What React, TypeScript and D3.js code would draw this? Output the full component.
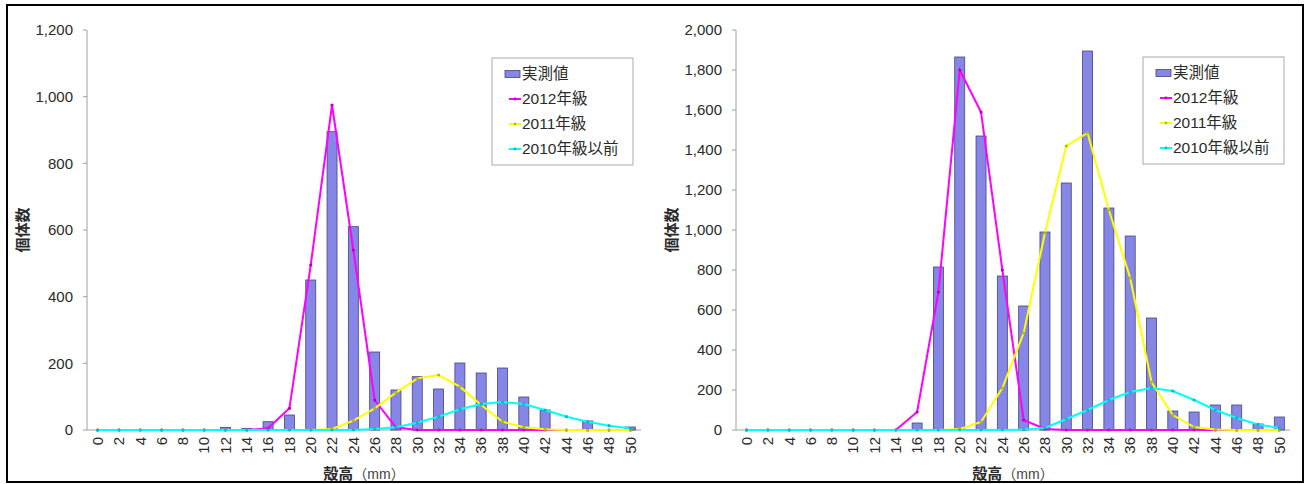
import React from "react";
import * as d3 from "d3";

const categories = [0, 2, 4, 6, 8, 10, 12, 14, 16, 18, 20, 22, 24, 26, 28, 30, 32, 34, 36, 38, 40, 42, 44, 46, 48, 50];

const seriesNames = ["実測値", "2012年級", "2011年級", "2010年級以前"];

// Left chart
const leftMeasured = [0, 0, 0, 0, 0, 0, 8, 5, 25, 45, 450, 895, 610, 234, 120, 160, 123, 201, 171, 186, 99, 60, 0, 27, 0, 9];
const left2012 = [0, 0, 0, 0, 0, 0, 0, 0, 5, 65, 495, 975, 540, 90, 8, 0, 0, 0, 0, 0, 0, 0, 0, 0, 0, 0];
const left2011 = [0, 0, 0, 0, 0, 0, 0, 0, 0, 0, 0, 3, 28, 65, 112, 155, 165, 130, 75, 25, 8, 2, 0, 0, 0, 0];
const left2010 = [0, 0, 0, 0, 0, 0, 0, 0, 0, 0, 0, 0, 0, 3, 8, 22, 40, 62, 78, 84, 78, 60, 40, 25, 13, 5];
const leftTicks = [0, 200, 400, 600, 800, 1000, 1200];

// Right chart
const rightMeasured = [0, 0, 0, 0, 0, 0, 0, 0, 35, 815, 1865, 1470, 770, 620, 990, 1235, 1895, 1110, 970, 560, 95, 90, 125, 125, 30, 65];
const right2012 = [0, 0, 0, 0, 0, 0, 0, 0, 90, 690, 1800, 1590, 800, 50, 5, 0, 0, 0, 0, 0, 0, 0, 0, 0, 0, 0];
const right2011 = [0, 0, 0, 0, 0, 0, 0, 0, 0, 0, 5, 40, 210, 485, 985, 1420, 1485, 1100, 760, 240, 75, 15, 3, 0, 0, 0];
const right2010 = [0, 0, 0, 0, 0, 0, 0, 0, 0, 0, 0, 0, 0, 2, 10, 55, 100, 150, 190, 210, 195, 150, 100, 60, 28, 10];
const rightTicks = [0, 200, 400, 600, 800, 1000, 1200, 1400, 1600, 1800, 2000];

const xTitleMain = "殻高";
const xTitleUnit = "（mm）";
const yTitle = "個体数";

const FONT = '"Liberation Sans", "Noto Sans CJK JP", Arial, sans-serif';
const BAR_FILL = "#8686e6";
const BAR_STROKE = "#45457e";
const LINE_COLORS = ["#ff00ff", "#ffff00", "#00ffff"];
const TEXT = "#2a2a2a";

type ChartProps = {
  left: number;
  right: number;
  top: number;
  bottom: number;
  yMax: number;
  ticks: number[];
  measured: number[];
  lines: number[][];
  legendX: number;
  legendY: number;
};

function Chart(p: ChartProps) {
  const x = d3
    .scaleBand<string>()
    .domain(categories.map(String))
    .range([p.left, p.right]);
  const y = d3.scaleLinear().domain([0, p.yMax]).range([p.bottom, p.top]);
  const bw = x.bandwidth();
  const cx = (c: number) => (x(String(c)) as number) + bw / 2;
  const barW = 10;
  const fmt = d3.format(",");
  const lineGen = d3
    .line<number>()
    .x((_, i) => cx(categories[i]))
    .y((v) => y(v));

  return (
    <g fontFamily={FONT}>
      {/* y axis */}
      <line x1={p.left} x2={p.left} y1={p.top} y2={p.bottom} stroke="#a0a0a0" strokeWidth={1} />
      {p.ticks.map((t) => (
        <g key={t}>
          <line x1={p.left - 4} x2={p.left} y1={y(t)} y2={y(t)} stroke="#a0a0a0" />
          <text x={p.left - 14} y={y(t)} dy="0.35em" textAnchor="end" fontSize={15} fill={TEXT}>
            {fmt(t)}
          </text>
        </g>
      ))}
      {/* x axis */}
      <line x1={p.left} x2={p.right} y1={p.bottom} y2={p.bottom} stroke="#a0a0a0" />
      {categories.map((c) => (
        <text
          key={c}
          transform={`translate(${cx(c)},${p.bottom + 7}) rotate(-90)`}
          dy="0.35em"
          textAnchor="end"
          fontSize={15}
          fill={TEXT}
        >
          {c}
        </text>
      ))}
      <text x={(p.left + p.right) / 2} y={p.bottom + 43} dy="0.35em" textAnchor="middle" fill={TEXT}>
        <tspan fontSize={15} fontWeight="bold">{xTitleMain}</tspan>
        <tspan fontSize={14} fill="#444">{xTitleUnit}</tspan>
      </text>
      <text
        transform={`translate(${p.left - 64},${(p.top + p.bottom) / 2}) rotate(-90)`}
        dy="0.35em"
        textAnchor="middle"
        fontSize={15}
        fontWeight="bold"
        fill={TEXT}
      >
        {yTitle}
      </text>
      {/* bars */}
      {p.measured.map((v, i) =>
        v > 0 ? (
          <rect
            key={i}
            x={cx(categories[i]) - barW / 2}
            y={y(v)}
            width={barW}
            height={p.bottom - y(v)}
            fill={BAR_FILL}
            stroke={BAR_STROKE}
            strokeWidth={0.8}
          />
        ) : null
      )}
      {/* lines */}
      {p.lines.map((vals, si) => (
        <g key={si}>
          <path d={lineGen(vals) || ""} fill="none" stroke={LINE_COLORS[si]} strokeWidth={2} />
          {vals.map((v, i) => (
            <circle
              key={i}
              cx={cx(categories[i])}
              cy={y(v)}
              r={1.6}
              fill={d3.color(LINE_COLORS[si])!.darker(0.9).toString()}
            />
          ))}
        </g>
      ))}
      {/* legend */}
      <rect x={p.legendX} y={p.legendY} width={141} height={107} fill="white" stroke="#aaa" strokeWidth={1} />
      {seriesNames.map((name, i) => {
        const ly = p.legendY + 16 + i * 25;
        return (
          <g key={name}>
            {i === 0 ? (
              <rect x={p.legendX + 13} y={ly - 3.5} width={15} height={7} fill={BAR_FILL} stroke={BAR_STROKE} strokeWidth={0.8} />
            ) : (
              <g>
                <line x1={p.legendX + 17} x2={p.legendX + 29} y1={ly} y2={ly} stroke={LINE_COLORS[i - 1]} strokeWidth={2} />
                <circle cx={p.legendX + 23} cy={ly} r={1.4} fill={d3.color(LINE_COLORS[i - 1])!.darker(0.9).toString()} />
              </g>
            )}
            <text x={p.legendX + 30} y={ly} dy="0.35em" fontSize={15.5} fill={TEXT}>
              {name}
            </text>
          </g>
        );
      })}
    </g>
  );
}

export default function App() {
  return (
    <svg
      width={1309}
      height={484}
      style={{ position: "absolute", left: 0, top: 0, display: "block", background: "white" }}
    >
      <rect x={0} y={0} width={1309} height={484} fill="white" />
      <rect x={7} y={5} width={1296} height={477} fill="white" stroke="black" strokeWidth={2} />
      <Chart
        left={87}
        right={641}
        top={30}
        bottom={430}
        yMax={1200}
        ticks={leftTicks}
        measured={leftMeasured}
        lines={[left2012, left2011, left2010]}
        legendX={492}
        legendY={58}
      />
      <Chart
        left={736}
        right={1290}
        top={30}
        bottom={430}
        yMax={2000}
        ticks={rightTicks}
        measured={rightMeasured}
        lines={[right2012, right2011, right2010]}
        legendX={1143}
        legendY={57}
      />
    </svg>
  );
}
